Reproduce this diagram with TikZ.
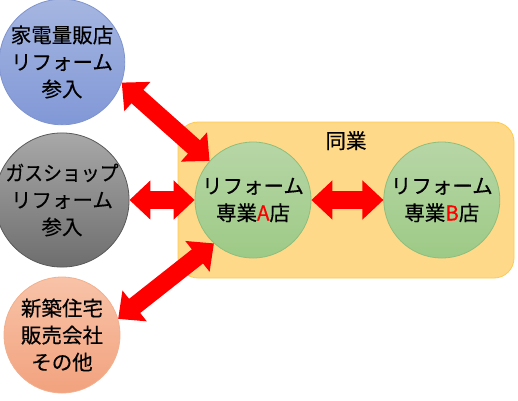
\documentclass[tikz,border=0pt]{standalone}
\usepackage{fontspec}
\setmainfont{Noto Sans CJK JP}[FakeBold=0.35]
\usepackage{tikz}
\usetikzlibrary{arrows.meta,positioning}

\definecolor{bluetop}{HTML}{A6B6E1}
\definecolor{bluebot}{HTML}{8198D7}
\definecolor{blueline}{HTML}{7F94CF}
\definecolor{graytop}{HTML}{A8A8A8}
\definecolor{graybot}{HTML}{6E6E6E}
\definecolor{grayline}{HTML}{595959}
\definecolor{orangetop}{HTML}{F8C3A8}
\definecolor{orangebot}{HTML}{F2A27E}
\definecolor{orangeline}{HTML}{F2B08E}
\definecolor{greentop}{HTML}{B7D6A6}
\definecolor{greenbot}{HTML}{9DCA86}
\definecolor{greenline}{HTML}{8EBE7C}
\definecolor{yellowfill}{HTML}{FFD98A}
\definecolor{yellowline}{HTML}{FFCA4E}

\begin{document}
\begin{tikzpicture}[
    x=1pt, y=1pt,
    every node/.style={font=\fontsize{20.5}{27}\selectfont},
    circ/.style={circle, draw, line width=0.8pt, minimum size=116pt, inner sep=0pt, align=center},
    bluecirc/.style={circ, draw=blueline, top color=bluetop, bottom color=bluebot},
    graycirc/.style={circ, draw=grayline, top color=graytop, bottom color=graybot},
    orangecirc/.style={circ, draw=orangeline, top color=orangetop, bottom color=orangebot},
    greencirc/.style={circ, draw=greenline, top color=greentop, bottom color=greenbot},
    group/.style={draw=yellowline, line width=0.8pt, fill=yellowfill, rounded corners=20pt, minimum width=336pt, minimum height=156pt},
    bigarrow/.style={{Triangle[width=38pt,length=21pt]}-{Triangle[width=38pt,length=21pt]}, line width=18pt, red}
]
\useasboundingbox (0,0) rectangle (518,400);
\node[group] (same) at (346,200) {};
\node[below=6pt of same.north] (sametitle) {同業};
\node[bluecirc] (appliance) at (62,338) {家電量販店\\リフォーム\\参入};
\node[graycirc] (gas) at (62,200) {\scalebox{0.92}[1]{ガスショップ}\\リフォーム\\参入};
\node[orangecirc] (builder) at (62,65) {新築住宅\\販売会社\\その他};
\node[greencirc] (shopA) at (253,200) {リフォーム\\専業\textcolor{red}{A}店};
\node[greencirc, right=72pt of shopA] (shopB) {リフォーム\\専業\textcolor{red}{B}店};
\draw[bigarrow] (appliance.-19) -- (shopA.138);
\draw[bigarrow] (gas) -- (shopA);
\draw[bigarrow] (builder.16) -- (shopA.228);
\draw[bigarrow] (shopA) -- (shopB);
\end{tikzpicture}
\end{document}
